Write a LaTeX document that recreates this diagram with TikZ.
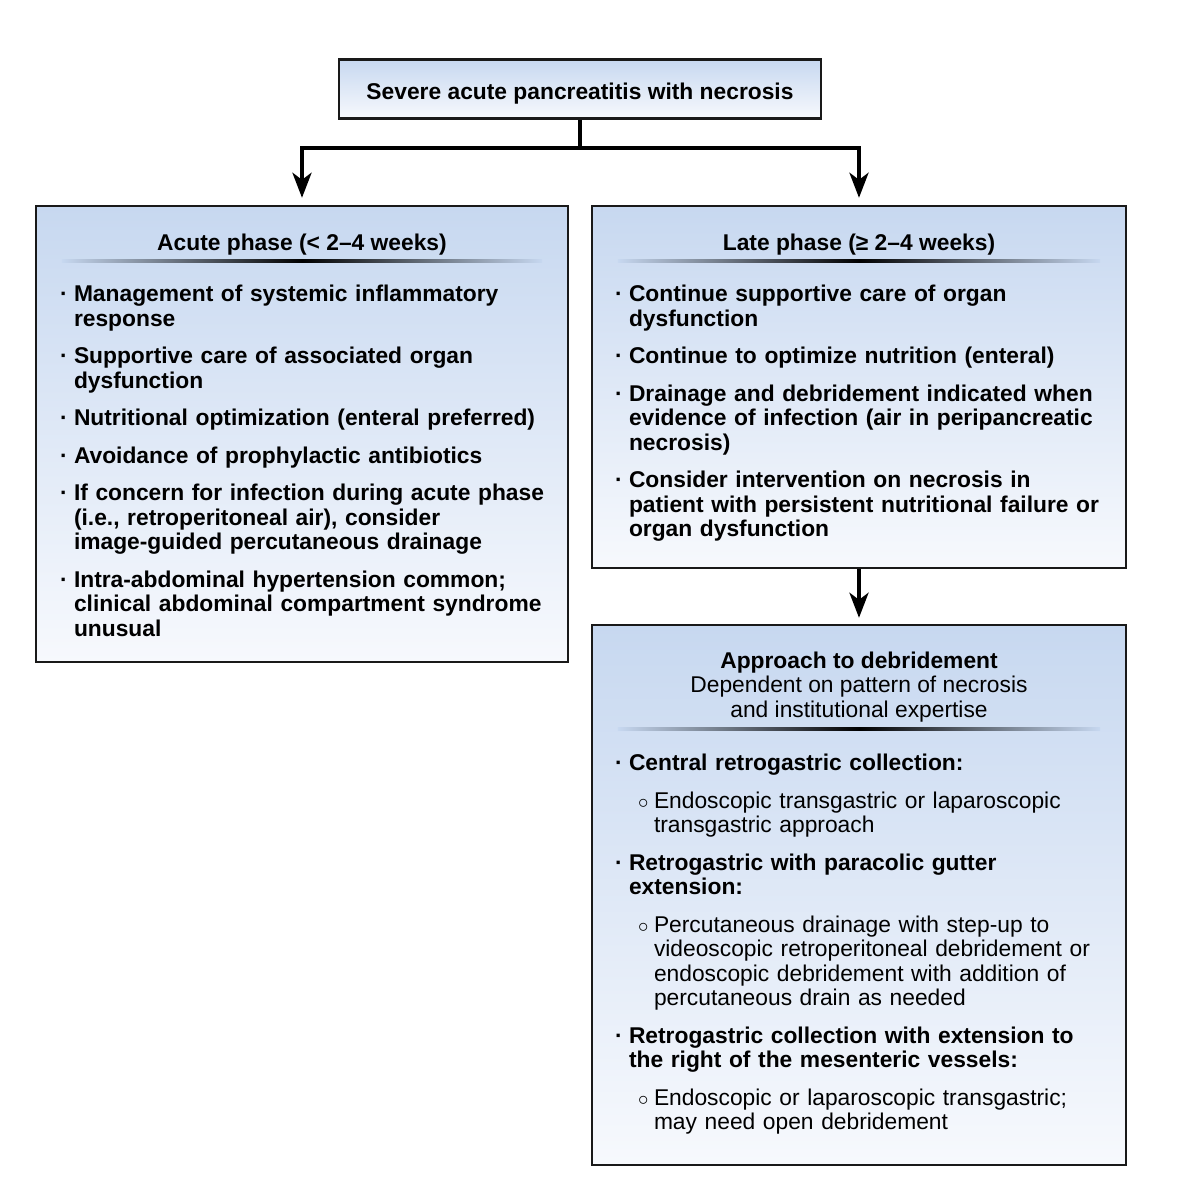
\documentclass[tikz,border=0pt]{standalone}
\usepackage{fontspec}
\setmainfont{Liberation Sans}
\usetikzlibrary{positioning, arrows.meta}

\definecolor{boxtop}{RGB}{199,216,240}
\definecolor{boxbot}{RGB}{247,249,253}

% list entries
\newcommand{\nl}{\hfil\break}
\newcommand{\itm}[1]{\par\hangindent=14pt\hangafter=1\noindent\makebox[14pt][l]{\textperiodcentered}#1\par\vskip12.8pt}
\newcommand{\subitm}[1]{{\par\leftskip=22pt\hangindent=17pt\hangafter=1\noindent\makebox[17pt][l]{\hspace{1pt}$\circ$}\mdseries#1\par}\vskip12.8pt}

\begin{document}
\begin{tikzpicture}[x=1pt, y=-1pt, >={Stealth[length=25pt, width=19pt, inset=7pt]},
    box/.style={draw=black!90, line width=2.4pt, top color=boxtop, bottom color=boxbot, inner sep=0pt},
    head/.style={font=\fontsize{22.8pt}{24.6pt}\selectfont\bfseries, align=center, inner sep=0pt},
    list/.style={font=\fontsize{22.8pt}{24.6pt}\selectfont\bfseries, text width=505pt, align=left, inner sep=0pt, anchor=north west},
    link/.style={line width=4pt},
    rule/.style={left color=boxtop, right color=boxtop, middle color=black}]
        \path[fill=white] (0,0) rectangle (1178,1200);

        % top box
        \node[box, head, minimum width=482pt, minimum height=59pt, text height=21pt, text depth=0pt] (severe) at (580,89) {Severe acute pancreatitis with necrosis};

        % phase boxes
        \node[box, minimum width=532pt, minimum height=456pt] (acute) at (302,434) {};
        \node[box, minimum width=534pt, minimum height=362pt] (late) at (859,387) {};
        \node[box, minimum width=534pt, minimum height=540pt] (debr) at (859,895) {};

        \node[head] (acutehd) at ([yshift=-40pt]acute.north) {Acute phase (< 2–4 weeks)};
        \node[head] (latehd) at ([yshift=-40pt]late.north) {Late phase (≥ 2–4 weeks)};
        \node[head] (debrhd) at ([yshift=-63pt]debr.north) {Approach to debridement\\ \mdseries Dependent on pattern of necrosis\\ \mdseries and institutional expertise};

        \shade[rule] ([xshift=27pt, yshift=-54.2pt]acute.north west) rectangle ([xshift=-27pt, yshift=-57.8pt]acute.north east);
        \shade[rule] ([xshift=27pt, yshift=-54.2pt]late.north west) rectangle ([xshift=-27pt, yshift=-57.8pt]late.north east);
        \shade[rule] ([xshift=27pt, yshift=-103.2pt]debr.north west) rectangle ([xshift=-27pt, yshift=-106.8pt]debr.north east);

        \node[list] (acutels) at ([xshift=25pt, yshift=-72pt]acute.north west) {%
            \itm{Management of systemic inflammatory\nl response}
            \itm{Supportive care of associated organ\nl dysfunction}
            \itm{Nutritional optimization (enteral preferred)}
            \itm{Avoidance of prophylactic antibiotics}
            \itm{If concern for infection during acute phase\nl (i.e., retroperitoneal air), consider\nl image-guided percutaneous drainage}
            \itm{Intra-abdominal hypertension common;\nl clinical abdominal compartment syndrome\nl unusual}};

        \node[list] (latels) at ([xshift=24pt, yshift=-72pt]late.north west) {%
            \itm{Continue supportive care of organ\nl dysfunction}
            \itm{Continue to optimize nutrition (enteral)}
            \itm{Drainage and debridement indicated when\nl evidence of infection (air in peripancreatic\nl necrosis)}
            \itm{Consider intervention on necrosis in\nl patient with persistent nutritional failure or\nl organ dysfunction}};

        \node[list] (debrls) at ([xshift=24pt, yshift=-122pt]debr.north west) {%
            \itm{Central retrogastric collection:}
            \subitm{Endoscopic transgastric or laparoscopic\nl transgastric approach}
            \itm{Retrogastric with paracolic gutter\nl extension:}
            \subitm{Percutaneous drainage with step-up to\nl videoscopic retroperitoneal debridement or\nl endoscopic debridement with addition of\nl percutaneous drain as needed}
            \itm{Retrogastric collection with extension to\nl the right of the mesenteric vessels:}
            \subitm{Endoscopic or laparoscopic transgastric;\nl may need open debridement}};

        % connectors
        \coordinate (fork) at ([yshift=-28pt]severe.south);
        \draw[link] (severe.south) -- (fork);
        \draw[link, ->, shorten >=7pt] (fork) -| (acute.north);
        \draw[link, ->, shorten >=7pt] (fork) -| (late.north);
        \draw[link, ->, shorten >=6pt] (late.south) -- (debr.north);

    \end{tikzpicture}
\end{document}
